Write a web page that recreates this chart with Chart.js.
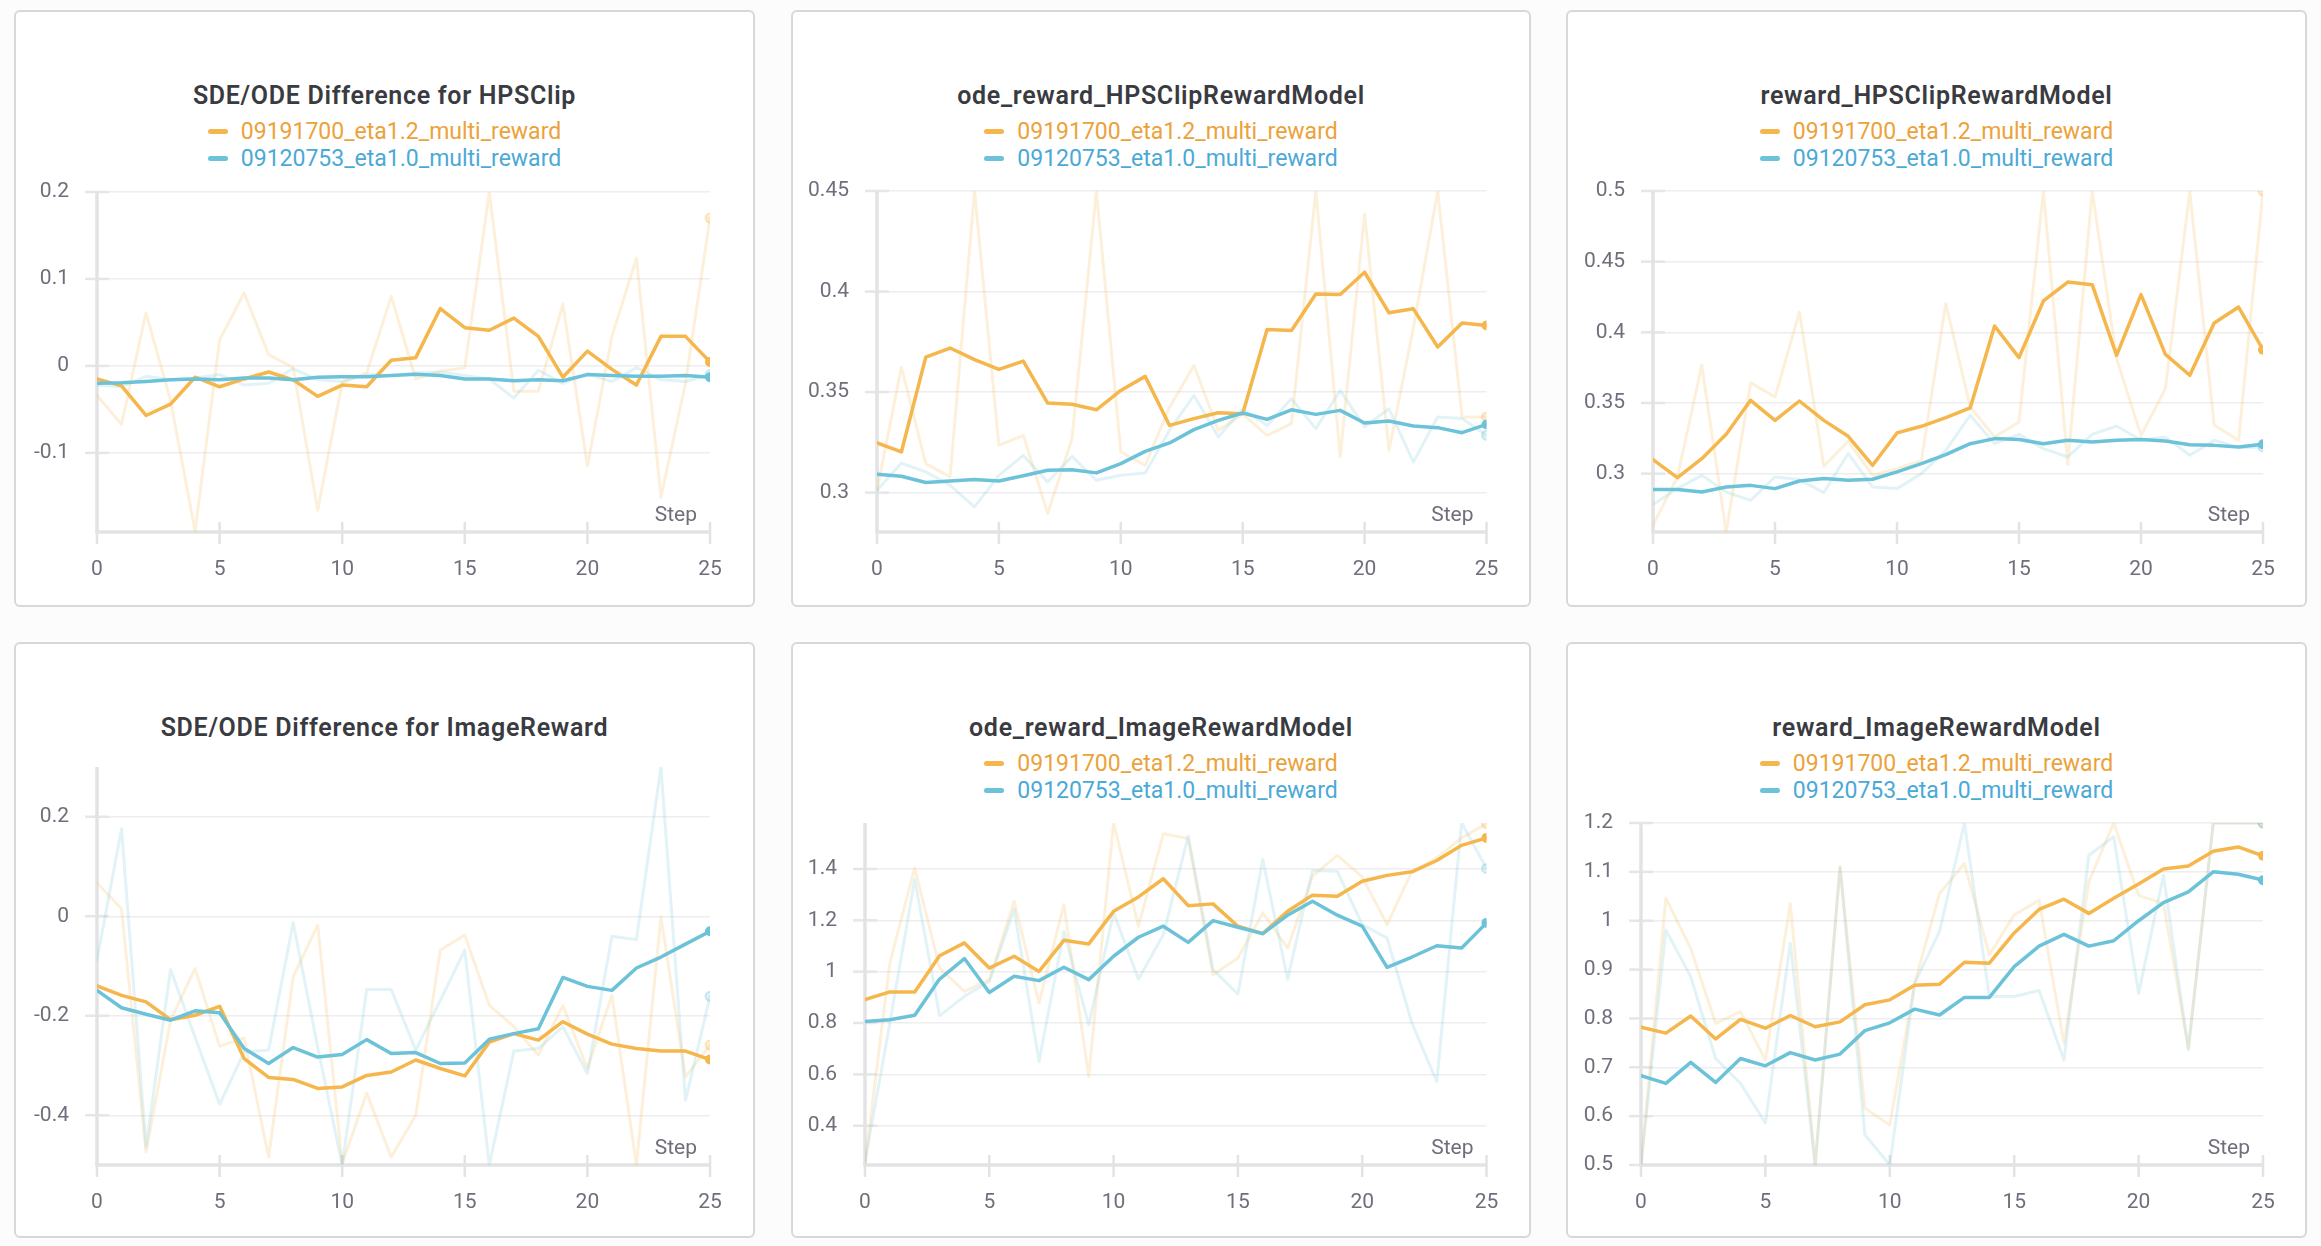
<!DOCTYPE html>
<html><head><meta charset="utf-8">
<script src="https://cdn.jsdelivr.net/npm/chart.js@4.4.1/dist/chart.umd.min.js"></script>
<style>
html,body{margin:0;padding:0;background:#fcfcfc;}
body{width:2321px;height:1246px;position:relative;overflow:hidden;font-family:Roboto,"Noto Sans",sans-serif;}
.panel{position:absolute;background:#fff;border:2px solid #d8d8db;border-radius:6px;box-sizing:border-box;}
.panel canvas{position:absolute;left:-2px;top:-2px;}
.title{position:absolute;left:-2px;right:-2px;top:69px;height:30px;line-height:30px;text-align:center;font-weight:600;font-size:25px;letter-spacing:0.7px;color:#3a3b41;white-space:nowrap;}
.legend{position:absolute;left:-2px;right:-2px;top:106px;text-align:center;}
.legend .blk{display:inline-block;text-align:left;}
.legend .row{height:27px;display:flex;align-items:center;font-size:23px;white-space:nowrap;}
.legend .mk{display:inline-block;width:20px;height:5px;border-radius:3px;margin-right:13px;}
</style>
</head><body>
<script>
const steps = [0,1,2,3,4,5,6,7,8,9,10,11,12,13,14,15,16,17,18,19,20,21,22,23,24,25];
const seriesNames = ['09191700_eta1.2_multi_reward', '09120753_eta1.0_multi_reward'];
const panelTitles = ['SDE/ODE Difference for HPSClip','ode_reward_HPSClipRewardModel','reward_HPSClipRewardModel','SDE/ODE Difference for ImageReward','ode_reward_ImageRewardModel','reward_ImageRewardModel'];
const xTicks = [0,5,10,15,20,25];

// Panel 1: SDE/ODE Difference for HPSClip
const hpsDiffRange = [-0.191, 0.2];
const hpsDiffTicks = [-0.1, 0, 0.1, 0.2];
const hpsDiffOrangeSmooth = [-0.015,-0.023,-0.057,-0.044,-0.013,-0.024,-0.015,-0.007,-0.016,-0.035,-0.022,-0.024,0.0065,0.0095,0.066,0.044,0.041,0.055,0.034,-0.013,0.017,-0.004,-0.022,0.034,0.034,0.0046];
const hpsDiffOrangeRaw = [-0.034,-0.067,0.061,-0.04,-0.19,0.030,0.084,0.013,-0.002,-0.166,-0.019,-0.008,0.080,-0.015,-0.006,-0.002,0.2,-0.029,-0.029,0.071,-0.115,0.034,0.124,-0.151,-0.02,0.170];
const hpsDiffBlueSmooth = [-0.020,-0.0195,-0.018,-0.016,-0.015,-0.016,-0.014,-0.014,-0.016,-0.013,-0.0126,-0.0126,-0.011,-0.0095,-0.011,-0.015,-0.015,-0.017,-0.016,-0.017,-0.010,-0.011,-0.012,-0.012,-0.011,-0.013];
const hpsDiffBlueRaw = [-0.022,-0.024,-0.012,-0.016,-0.014,-0.010,-0.022,-0.020,-0.003,-0.016,-0.018,-0.010,-0.011,-0.008,-0.007,-0.011,-0.015,-0.037,-0.005,-0.020,-0.009,-0.018,-0.002,-0.016,-0.018,-0.010];

// Panel 2: ode_reward_HPSClipRewardModel
const odeHpsRange = [0.2804, 0.45];
const odeHpsTicks = [0.3, 0.35, 0.4, 0.45];
const odeHpsOrangeSmooth = [0.3247,0.3202,0.3674,0.3719,0.3661,0.3613,0.3654,0.3445,0.3439,0.3412,0.3508,0.3578,0.3334,0.3368,0.3397,0.3392,0.3811,0.3806,0.3988,0.3985,0.4096,0.3894,0.3914,0.3724,0.3844,0.3831];
const odeHpsOrangeRaw = [0.301,0.3624,0.3144,0.3078,0.45,0.3235,0.3285,0.2896,0.3268,0.45,0.3202,0.3136,0.3425,0.3632,0.331,0.339,0.3285,0.3343,0.45,0.318,0.4386,0.321,0.382,0.45,0.3376,0.3376];
const odeHpsBlueSmooth = [0.3091,0.3081,0.305,0.3058,0.3065,0.3058,0.3084,0.3111,0.3114,0.3098,0.3144,0.3205,0.3247,0.3313,0.3359,0.3396,0.3364,0.3412,0.3389,0.3409,0.3346,0.3356,0.3331,0.3323,0.3298,0.3339];
const odeHpsBlueRaw = [0.301,0.3147,0.3103,0.3036,0.2929,0.3086,0.3185,0.3053,0.318,0.3061,0.3086,0.3098,0.331,0.3483,0.3276,0.3417,0.3334,0.3467,0.3318,0.3508,0.3326,0.3417,0.3152,0.3376,0.3368,0.3285];

// Panel 3: reward_HPSClipRewardModel
const rewHpsRange = [0.2587, 0.5];
const rewHpsTicks = [0.3, 0.35, 0.4, 0.45, 0.5];
const rewHpsOrangeSmooth = [0.3099,0.2972,0.3106,0.3278,0.3519,0.3377,0.3514,0.3377,0.3264,0.3059,0.3288,0.3335,0.3396,0.3465,0.4045,0.3821,0.4222,0.4356,0.4337,0.3837,0.4267,0.3844,0.3696,0.4066,0.4179,0.3877];
const rewHpsOrangeRaw = [0.2634,0.2976,0.3767,0.2587,0.3642,0.3542,0.4144,0.3052,0.3229,0.2988,0.3035,0.3094,0.4203,0.3472,0.3259,0.3366,0.5,0.3066,0.5,0.3814,0.3271,0.3601,0.5,0.3342,0.3236,0.5];
const rewHpsBlueSmooth = [0.2887,0.2887,0.287,0.2906,0.2917,0.2894,0.2948,0.2965,0.2953,0.296,0.3012,0.3071,0.3134,0.3212,0.3248,0.3241,0.3212,0.3236,0.3224,0.3236,0.3241,0.3231,0.3205,0.32,0.3189,0.3208];
const rewHpsBlueRaw = [0.2781,0.2894,0.2988,0.287,0.2811,0.2976,0.2958,0.2866,0.3142,0.2906,0.2894,0.3,0.3165,0.3413,0.3212,0.3278,0.3177,0.3118,0.3278,0.3337,0.3236,0.3259,0.313,0.3236,0.3184,0.3189];

// Panel 4: SDE/ODE Difference for ImageReward
const imgDiffRange = [-0.5, 0.3];
const imgDiffTicks = [-0.4, -0.2, 0, 0.2];
const imgDiffOrangeSmooth = [-0.140,-0.159,-0.172,-0.208,-0.199,-0.181,-0.286,-0.324,-0.328,-0.346,-0.343,-0.320,-0.313,-0.289,-0.306,-0.321,-0.253,-0.236,-0.249,-0.212,-0.237,-0.257,-0.266,-0.271,-0.271,-0.288];
const imgDiffOrangeRaw = [0.067,0.015,-0.474,-0.209,-0.105,-0.261,-0.245,-0.484,-0.122,-0.018,-0.497,-0.356,-0.484,-0.4,-0.068,-0.038,-0.179,-0.222,-0.279,-0.179,-0.306,-0.159,-0.5,-0.001,-0.323,-0.259];
const imgDiffBlueSmooth = [-0.149,-0.184,-0.197,-0.209,-0.190,-0.194,-0.266,-0.296,-0.264,-0.283,-0.278,-0.248,-0.276,-0.274,-0.296,-0.295,-0.247,-0.236,-0.226,-0.123,-0.141,-0.149,-0.104,-0.082,-0.056,-0.030];
const imgDiffBlueRaw = [-0.088,0.176,-0.464,-0.107,-0.243,-0.378,-0.273,-0.269,-0.013,-0.263,-0.5,-0.147,-0.147,-0.269,-0.169,-0.068,-0.5,-0.271,-0.266,-0.222,-0.316,-0.040,-0.047,0.3,-0.370,-0.161];

// Panel 5: ode_reward_ImageRewardModel
const odeImgRange = [0.247, 1.579];
const odeImgTicks = [0.4, 0.6, 0.8, 1, 1.2, 1.4];
const odeImgOrangeSmooth = [0.891,0.921,0.921,1.062,1.112,1.014,1.060,1.001,1.122,1.108,1.235,1.291,1.362,1.257,1.264,1.177,1.148,1.235,1.298,1.294,1.352,1.375,1.389,1.433,1.492,1.521];
const odeImgOrangeRaw = [0.254,1.034,1.404,1.014,0.923,0.969,1.274,0.878,1.261,0.592,1.580,1.177,1.537,1.519,0.988,1.053,1.229,1.092,1.372,1.453,1.369,1.183,1.391,1.443,1.521,1.576];
const odeImgBlueSmooth = [0.806,0.813,0.830,0.971,1.051,0.919,0.982,0.965,1.017,0.969,1.060,1.134,1.177,1.114,1.199,1.173,1.148,1.220,1.274,1.220,1.177,1.017,1.057,1.101,1.092,1.190];
const odeImgBlueRaw = [0.260,0.800,1.359,0.828,0.904,0.962,1.242,0.650,1.157,0.793,1.229,0.971,1.144,1.528,1.008,0.913,1.437,0.971,1.394,1.391,1.183,1.131,0.800,0.572,1.580,1.402];

// Panel 6: reward_ImageRewardModel
const rewImgRange = [0.5, 1.2];
const rewImgTicks = [0.5, 0.6, 0.7, 0.8, 0.9, 1, 1.1, 1.2];
const rewImgOrangeSmooth = [0.782,0.770,0.805,0.758,0.798,0.780,0.806,0.783,0.793,0.828,0.838,0.868,0.870,0.915,0.913,0.975,1.023,1.044,1.015,1.046,1.075,1.106,1.112,1.142,1.151,1.133];
const rewImgOrangeRaw = [0.5,1.046,0.943,0.790,0.814,0.715,1.035,0.5,1.110,0.616,0.582,0.872,1.056,1.117,0.930,1.012,1.042,0.749,1.080,1.2,1.052,1.035,0.739,1.2,1.2,1.2];
const rewImgBlueSmooth = [0.683,0.667,0.710,0.669,0.718,0.703,0.730,0.715,0.727,0.775,0.791,0.819,0.807,0.843,0.843,0.906,0.948,0.972,0.948,0.959,1.0,1.037,1.059,1.100,1.095,1.083];
const rewImgBlueRaw = [0.5,0.981,0.885,0.718,0.667,0.586,0.954,0.5,1.110,0.562,0.5,0.872,0.978,1.2,0.845,0.845,0.857,0.715,1.134,1.172,0.851,1.093,0.736,1.2,1.2,1.2];

// ---- layout / style ----
const ORANGE = '#f5b64c', BLUE = '#6cc2d8';
const ORANGE_FAINT = 'rgba(245,182,76,0.2)', BLUE_FAINT = 'rgba(108,194,216,0.2)';
const ORANGE_TEXT = '#eca23a', BLUE_TEXT = '#4ba9d6';

const panels = [
  {title:panelTitles[0], x:14,  y:10,  w:741, h:597, L:83, R:696, T:182, B:522, legend:true, range:hpsDiffRange, ticks:hpsDiffTicks, d:[hpsDiffOrangeSmooth,hpsDiffOrangeRaw,hpsDiffBlueSmooth,hpsDiffBlueRaw]},
  {title:panelTitles[1], x:791, y:10,  w:740, h:597, L:86, R:695.5, T:181, B:522, legend:true, range:odeHpsRange, ticks:odeHpsTicks, d:[odeHpsOrangeSmooth,odeHpsOrangeRaw,odeHpsBlueSmooth,odeHpsBlueRaw]},
  {title:panelTitles[2], x:1566,y:10,  w:741, h:597, L:87, R:697, T:181, B:522, legend:true, range:rewHpsRange, ticks:rewHpsTicks, d:[rewHpsOrangeSmooth,rewHpsOrangeRaw,rewHpsBlueSmooth,rewHpsBlueRaw]},
  {title:panelTitles[3], x:14,  y:642, w:741, h:596, L:83, R:696, T:125, B:523, legend:false, range:imgDiffRange, ticks:imgDiffTicks, d:[imgDiffOrangeSmooth,imgDiffOrangeRaw,imgDiffBlueSmooth,imgDiffBlueRaw]},
  {title:panelTitles[4], x:791, y:642, w:740, h:596, L:74, R:695.5, T:181, B:523, legend:true, range:odeImgRange, ticks:odeImgTicks, d:[odeImgOrangeSmooth,odeImgOrangeRaw,odeImgBlueSmooth,odeImgBlueRaw]},
  {title:panelTitles[5], x:1566,y:642, w:741, h:596, L:75, R:697, T:181, B:523, legend:true, range:rewImgRange, ticks:rewImgTicks, d:[rewImgOrangeSmooth,rewImgOrangeRaw,rewImgBlueSmooth,rewImgBlueRaw]}
];

const axisDeco = {
  id:'axisDeco',
  beforeDatasetsDraw(chart){
    const {ctx, chartArea:{left,right,top,bottom}, scales:{x,y}} = chart;
    ctx.save();
    const seg=(x1,y1,x2,y2,c,w)=>{ctx.beginPath();ctx.strokeStyle=c;ctx.lineWidth=w;ctx.moveTo(x1,y1);ctx.lineTo(x2,y2);ctx.stroke();};
    y.ticks.forEach(t=>{const py=y.getPixelForValue(t.value); seg(left-12,py,left+12,py,'#e6e6e8',2.5);});
    x.ticks.forEach(t=>{const px=x.getPixelForValue(t.value); seg(px,bottom-10,px,bottom+12,'#e3e3e5',2.5);});
    seg(left,top,left,bottom+1.5,'#e3e3e5',3.5);
    seg(left-1.5,bottom,right,bottom,'#e3e3e5',3.5);
    ctx.fillStyle='#6f6f7b'; ctx.font='21px Roboto'; ctx.textAlign='right'; ctx.textBaseline='alphabetic';
    ctx.fillText('Step', right-13, bottom-11);
    ctx.restore();
  }
};

function lastOnly(r){ return (c)=> c.dataIndex === steps.length-1 ? r : 0; }

function build(){
  panels.forEach((p)=>{
    const div=document.createElement('div'); div.className='panel';
    Object.assign(div.style,{left:p.x+'px',top:p.y+'px',width:p.w+'px',height:p.h+'px'});
    const t=document.createElement('div'); t.className='title'; t.textContent=p.title; div.appendChild(t);
    if(p.legend){
      const lg=document.createElement('div'); lg.className='legend';
      const blk=document.createElement('div'); blk.className='blk';
      [[ORANGE,ORANGE_TEXT,seriesNames[0]],[BLUE,BLUE_TEXT,seriesNames[1]]].forEach(([mc,tc,name])=>{
        const row=document.createElement('div'); row.className='row';
        const mk=document.createElement('span'); mk.className='mk'; mk.style.background=mc;
        const tx=document.createElement('span'); tx.style.color=tc; tx.textContent=name;
        row.appendChild(mk); row.appendChild(tx); blk.appendChild(row);
      });
      lg.appendChild(blk); div.appendChild(lg);
    }
    const cv=document.createElement('canvas'); cv.width=p.w; cv.height=p.h;
    cv.style.width=p.w+'px'; cv.style.height=p.h+'px';
    div.appendChild(cv);
    document.body.appendChild(div);
    const mk=(data,color,width,radius,label,faintDot)=>({
      label, data: steps.map((s,i)=>({x:s,y:data[i]})),
      borderColor:color, backgroundColor:color, borderWidth:width, tension:0,
      borderJoinStyle:'round', borderCapStyle:'round',
      pointRadius:lastOnly(radius), pointHoverRadius:0, pointBorderWidth:faintDot?2:0,
      pointBackgroundColor:color, pointBorderColor:faintDot?faintDot:color
    });
    new Chart(cv,{
      type:'line',
      data:{datasets:[
        mk(p.d[2],BLUE,3.5,5,seriesNames[1]),
        mk(p.d[0],ORANGE,3.5,5,seriesNames[0]),
        mk(p.d[3],BLUE_FAINT,3,4.5,seriesNames[1]+' (raw)','rgba(108,194,216,0.35)'),
        mk(p.d[1],ORANGE_FAINT,3,4.5,seriesNames[0]+' (raw)','rgba(245,182,76,0.35)')
      ]},
      options:{
        responsive:false, animation:false, devicePixelRatio:1,
        layout:{padding:{left:0,top:p.T,right:p.w-p.R,bottom:0}},
        plugins:{legend:{display:false},tooltip:{enabled:false},title:{display:false}},
        events:[],
        scales:{
          x:{type:'linear',min:0,max:25,
             afterFit:(s)=>{s.height=p.h-p.B;},
             afterBuildTicks:(s)=>{s.ticks=xTicks.map(v=>({value:v}));},
             grid:{display:false,drawTicks:false}, border:{display:false},
             ticks:{padding:25,color:'#6f6f7b',font:{family:'Roboto',size:21},maxRotation:0,callback:(v)=>String(v)}},
          y:{type:'linear',min:p.range[0],max:p.range[1],
             afterFit:(s)=>{s.width=p.L;},
             afterBuildTicks:(s)=>{s.ticks=p.ticks.map(v=>({value:v}));},
             grid:{color:'#eeeeef',lineWidth:1.5,drawTicks:false}, border:{display:false},
             ticks:{padding:28,color:'#6f6f7b',font:{family:'Roboto',size:21},callback:(v)=>String(v)}}
        }
      },
      plugins:[axisDeco]
    });
  });
}
if(document.fonts && document.fonts.load){
  Promise.all([document.fonts.load('21px Roboto'),document.fonts.load('600 25px Roboto')]).then(build,build);
} else build();
</script>
</body></html>
